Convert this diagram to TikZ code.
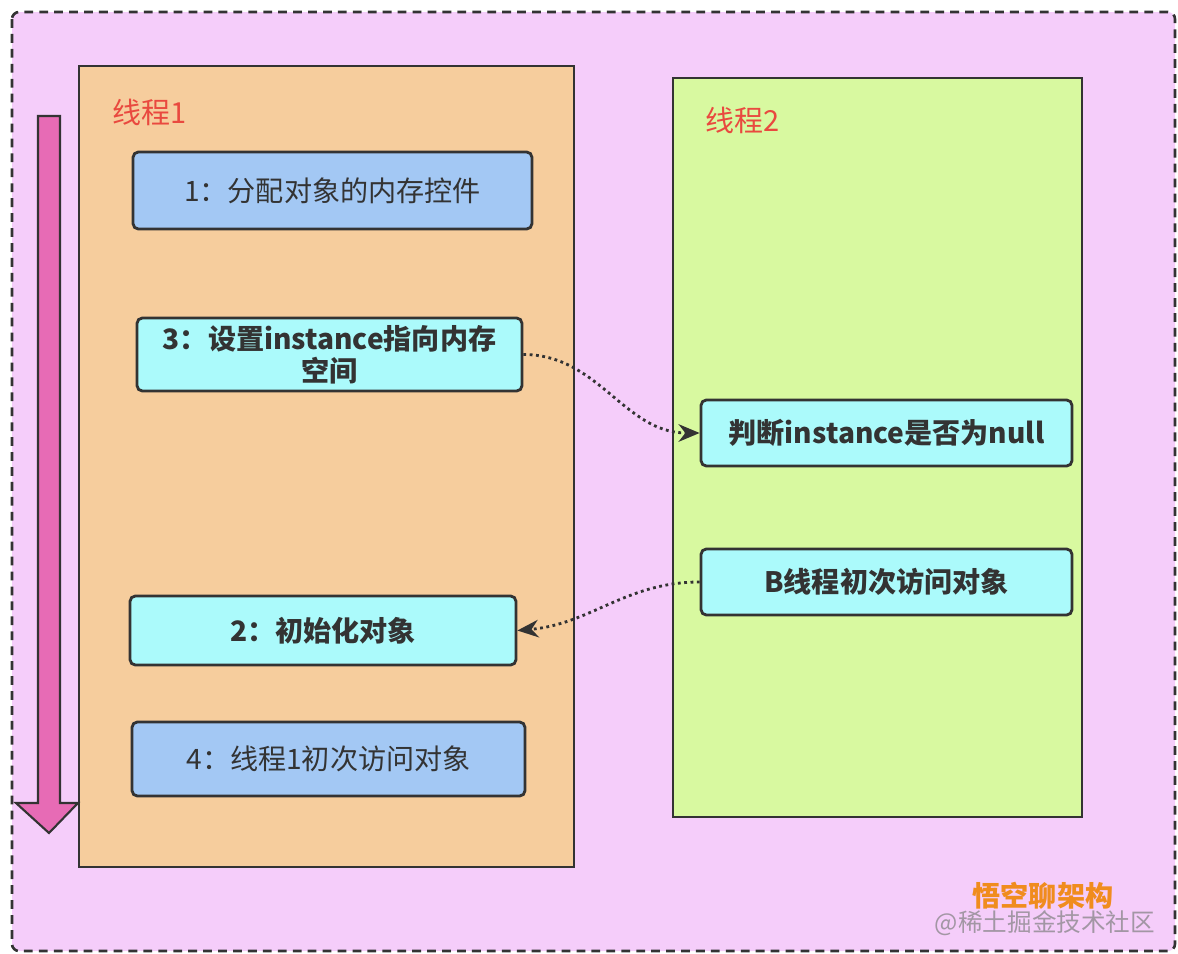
\documentclass[tikz,border=0pt]{standalone}
\usepackage{fontspec}
\setmainfont{Noto Sans CJK SC}
\usetikzlibrary{arrows.meta}

\definecolor{outerbg}{HTML}{F5CDFA}
\definecolor{peach}{HTML}{F6CD9D}
\definecolor{lightgreen}{HTML}{D8F9A0}
\definecolor{stepblue}{HTML}{A3C8F4}
\definecolor{stepcyan}{HTML}{ABFAFB}
\definecolor{labelred}{HTML}{E9493F}
\definecolor{markorange}{HTML}{F08C1E}
\definecolor{arrowpink}{HTML}{E76BB5}
\definecolor{inkgray}{HTML}{333333}

\begin{document}
\begin{tikzpicture}[x=0.02cm,y=-0.02cm,
    stepbox/.style={draw=inkgray,line width=1.6pt,rounded corners=3pt,
                    text=inkgray,align=center,inner sep=0pt,
                    font=\fontsize{16}{18}\selectfont},
    plainstep/.style={stepbox,fill=stepblue},
    boldstep/.style={stepbox,fill=stepcyan,font=\fontsize{16}{18}\selectfont\bfseries},
    threadlabel/.style={text=labelred,anchor=west,font=\fontsize{16.5}{18}\selectfont},
    flow/.style={dotted,line width=1.6pt,inkgray,-{Stealth[length=12pt,width=10pt]}}]
  \useasboundingbox (0,0) rectangle (1178,954);
  % outer frame
  \draw[fill=outerbg,draw=inkgray,line width=1.5pt,dash pattern=on 5pt off 3.5pt,
        rounded corners=4pt] (12,12) rectangle (1175,951);
  % threads
  \draw[fill=peach,draw=inkgray,line width=1.5pt] (79,66) rectangle (574,867);
  \draw[fill=lightgreen,draw=inkgray,line width=1.5pt] (673,78) rectangle (1082,817);
  \node[threadlabel] (t1) at (106,112) {线程1};
  \node[threadlabel] (t2) at (699,120) {线程2};
  % time arrow
  \draw[fill=arrowpink,draw=inkgray,line width=1.2pt]
    (38,116) -- (60,116) -- (60,803) -- (78,803) -- (49,833)
    -- (16,803) -- (38,803) -- cycle;
  % steps of thread 1
  \node[plainstep,minimum width=7.98cm,minimum height=1.54cm] (s1) at (332.5,190.5)
    {1：分配对象的内存控件};
  \node[boldstep,minimum width=7.7cm,minimum height=1.46cm] (s3) at (329.5,354.5)
    {3：设置instance指向内存\\空间};
  \node[boldstep,minimum width=7.72cm,minimum height=1.38cm] (s2) at (323,630.5)
    {2：初始化对象};
  \node[plainstep,minimum width=7.86cm,minimum height=1.48cm] (s4) at (328.5,759)
    {4：线程1初次访问对象};
  % steps of thread 2
  \node[boldstep,minimum width=7.42cm,minimum height=1.32cm] (check) at (886.5,433)
    {判断instance是否为null};
  \node[boldstep,minimum width=7.42cm,minimum height=1.32cm] (visit) at (886.5,582)
    {B线程初次访问对象};
  % reordering
  \draw[flow] (s3.east) to[out=0,in=180] (check.west);
  \draw[flow] (visit.west) to[out=180,in=5] (s2.east);
  % watermark
  \node[text=markorange,font=\fontsize{16}{18}\selectfont\bfseries,inner sep=0pt] (mark) at (1043,896) {悟空聊架构};
  \node[text=gray,opacity=.7,font=\fontsize{14}{16}\selectfont,inner sep=0pt] (site) at (1045,923) {@稀土掘金技术社区};
\end{tikzpicture}
\end{document}
